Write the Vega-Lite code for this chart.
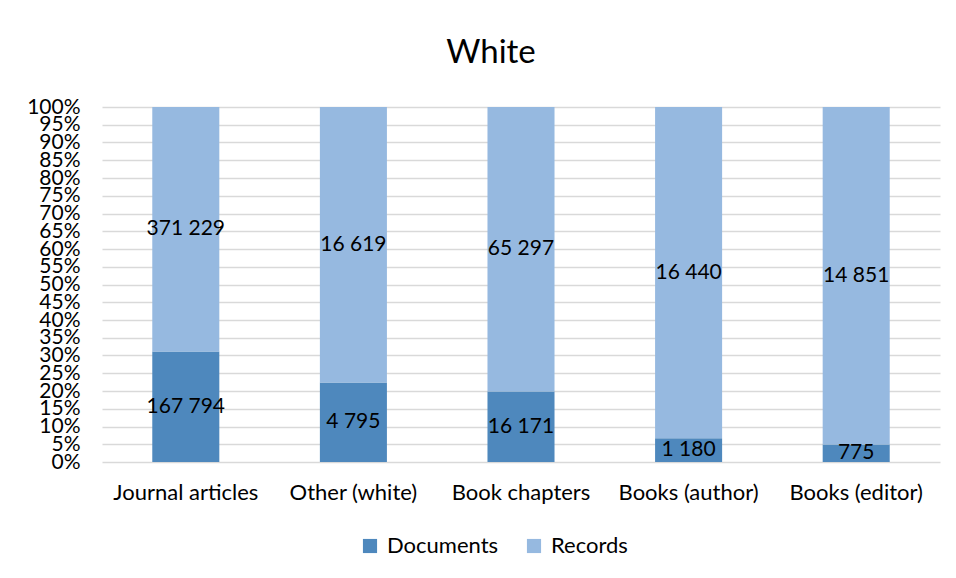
{
  "$schema": "https://vega.github.io/schema/vega-lite/v6.json",
  "width": 838,
  "height": 355,
  "autosize": "none",
  "padding": {"left": 102, "top": 107, "right": 16, "bottom": 116},
  "background": "white",
  "config": {
    "font": "Lato",
    "view": {"stroke": null},
    "locale": {"number": {"decimal": ",", "thousands": " ", "grouping": [3], "currency": ["", ""]}}
  },
  "title": {"text": "White", "fontSize": 33, "font": "Lato", "fontWeight": "normal", "color": "#000000", "anchor": "middle", "offset": 26, "dx": -30},
  "data": {
    "values": [
      {"type": "Journal articles", "series": "Documents", "value": 167794},
      {"type": "Journal articles", "series": "Records", "value": 371229},
      {"type": "Other (white)", "series": "Documents", "value": 4795},
      {"type": "Other (white)", "series": "Records", "value": 16619},
      {"type": "Book chapters", "series": "Documents", "value": 16171},
      {"type": "Book chapters", "series": "Records", "value": 65297},
      {"type": "Books (author)", "series": "Documents", "value": 1180},
      {"type": "Books (author)", "series": "Records", "value": 16440},
      {"type": "Books (editor)", "series": "Documents", "value": 775},
      {"type": "Books (editor)", "series": "Records", "value": 14851}
    ]
  },
  "transform": [
    {"stack": "value", "groupby": ["type"], "sort": [{"field": "series", "order": "ascending"}], "offset": "normalize", "as": ["y0", "y1"]},
    {"calculate": "(datum.y0 + datum.y1) / 2", "as": "ymid"}
  ],
  "encoding": {
    "x": {
      "field": "type", "type": "nominal", "sort": null,
      "scale": {"paddingInner": 0.6, "paddingOuter": 0.3},
      "axis": {"title": null, "labelAngle": 0, "labelFontSize": 22, "labelColor": "#000000", "ticks": false, "domain": false, "labelPadding": 20, "grid": false, "labelOverlap": false}
    }
  },
  "layer": [
    {
      "mark": {"type": "bar"},
      "encoding": {
        "y": {
          "field": "y1", "type": "quantitative",
          "scale": {"domain": [0, 1], "nice": false},
          "axis": {"title": null, "format": ".0%", "tickCount": 20, "labelOverlap": false, "labelFontSize": 21, "labelColor": "#000000", "ticks": false, "domain": false, "labelPadding": 22, "gridColor": "#d9d9d9", "gridWidth": 1.5}
        },
        "y2": {"field": "y0"},
        "color": {
          "field": "series", "type": "nominal",
          "scale": {"domain": ["Documents", "Records"], "range": ["#4E88BD", "#96B9E0"]},
          "legend": {"title": null, "orient": "none", "direction": "horizontal", "legendX": 257, "legendY": 428, "symbolType": "square", "symbolSize": 200, "symbolStrokeWidth": 0, "labelFontSize": 22, "labelColor": "#000000", "columnPadding": 24, "labelOffset": 6}
        }
      }
    },
    {
      "mark": {"type": "text", "fontSize": 21, "color": "#000000", "baseline": "middle"},
      "encoding": {
        "y": {"field": "ymid", "type": "quantitative"},
        "text": {"field": "value", "type": "quantitative", "format": ",d"}
      }
    }
  ]
}
